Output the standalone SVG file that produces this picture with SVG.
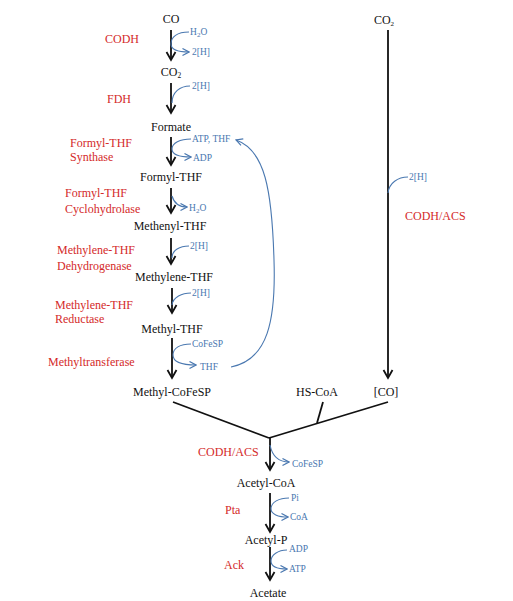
<svg xmlns="http://www.w3.org/2000/svg" width="513" height="601" viewBox="0 0 513 601">
<defs>
<marker id="ah" markerUnits="userSpaceOnUse" markerWidth="12" markerHeight="12" viewBox="0 0 12 12" refX="10" refY="6" orient="auto">
<path d="M2,1.5 L10,6 L2,10.5" fill="none" stroke="#111" stroke-width="1.8"/>
</marker>
<marker id="bh" markerUnits="userSpaceOnUse" markerWidth="9" markerHeight="9" viewBox="0 0 9 9" refX="8" refY="4.5" orient="auto">
<path d="M1.5,1 L8,4.5 L1.5,8" fill="none" stroke="#4a78b0" stroke-width="1.2"/>
</marker>
</defs>
<style>
.k{font-family:"Liberation Serif","Times New Roman",serif;font-size:12px;fill:#111;text-anchor:middle}
.r{font-family:"Liberation Serif","Times New Roman",serif;font-size:12px;fill:#d42a2a}
.b{font-family:"Liberation Serif","Times New Roman",serif;font-size:9.5px;fill:#4a78b0}
.m{stroke:#111;stroke-width:1.8;fill:none;marker-end:url(#ah)}
.s{stroke:#4a78b0;stroke-width:1.1;fill:none}
.sa{stroke:#4a78b0;stroke-width:1.1;fill:none;marker-end:url(#bh)}
.l{stroke:#111;stroke-width:1.8;fill:none}
</style>
<rect width="513" height="601" fill="#fff"/>
<g id="connectors">
<line class="m" x1="171" y1="30" x2="171" y2="60"/>
<line class="m" x1="171" y1="83" x2="171" y2="113"/>
<line class="m" x1="171" y1="137" x2="171" y2="165"/>
<line class="m" x1="171" y1="188" x2="171" y2="213"/>
<line class="m" x1="171" y1="238" x2="171" y2="264"/>
<line class="m" x1="172" y1="288" x2="172" y2="313"/>
<line class="m" x1="172" y1="338" x2="172" y2="378"/>
<line class="m" x1="388" y1="30" x2="388" y2="378"/>
<line class="l" x1="173" y1="402" x2="269" y2="438"/>
<line class="l" x1="388" y1="402" x2="269" y2="438"/>
<line class="l" x1="323" y1="402" x2="317" y2="423"/>
<line class="m" x1="270" y1="437" x2="270" y2="470"/>
<line class="m" x1="270" y1="493" x2="270" y2="532"/>
<line class="m" x1="270" y1="547" x2="270" y2="580"/>
<path class="sa" d="M189,32 C177,32 171,37 171,44 C171,50 178,52 189,52"/>
<path class="s" d="M190,86 C180,86 172,92 172,103"/>
<path class="sa" d="M191,139 C180,139 172,143 172,149 C172,155 180,157 191,157"/>
<path class="sa" d="M172,196 C174,203 178,207 187,207"/>
<path class="s" d="M189,246 C180,246 172,250 172,258"/>
<path class="s" d="M191,293 C182,293 173,297 172,305"/>
<path class="sa" d="M191,344 C180,344 173,348 173,355 C173,362 182,365 196,365"/>
<path class="s" d="M408,177 C398,177 389,183 388,193"/>
<path class="sa" d="M270,445 C272,455 278,462 289,462"/>
<path class="sa" d="M289,498 C279,498 271,502 271,509 C271,514 278,517 288,517"/>
<path class="sa" d="M287,550 C278,550 271,555 271,561 C271,567 278,569 287,569"/>
<path class="sa" d="M231,367 C268,360 276,320 274,260 C272,190 265,150 236,140"/>
</g>
<g id="n-co"><text class="k" x="171" y="23">CO</text></g>
<g id="n-co2"><text class="k" x="171" y="76">CO<tspan font-size="7.5" dy="2">2</tspan></text></g>
<g id="n-formate"><text class="k" x="171" y="131">Formate</text></g>
<g id="n-formylthf"><text class="k" x="171" y="181">Formyl-THF</text></g>
<g id="n-methenylthf"><text class="k" x="170" y="230">Methenyl-THF</text></g>
<g id="n-methylenethf"><text class="k" x="174" y="281">Methylene-THF</text></g>
<g id="n-methylthf"><text class="k" x="172" y="333">Methyl-THF</text></g>
<g id="n-methylcofesp"><text class="k" x="172" y="396">Methyl-CoFeSP</text></g>
<g id="n-hscoa"><text class="k" x="317" y="396">HS-CoA</text></g>
<g id="n-co-bracket"><text class="k" x="386" y="396">[CO]</text></g>
<g id="n-co2-right"><text class="k" x="384" y="24" font-size="10.5">CO<tspan font-size="7" dy="2">2</tspan></text></g>
<g id="n-acetylcoa"><text class="k" x="266" y="487">Acetyl-CoA</text></g>
<g id="n-acetylp"><text class="k" x="266" y="544">Acetyl-P</text></g>
<g id="n-acetate"><text class="k" x="268" y="597">Acetate</text></g>
<g id="enzymes">
<text class="r" x="105" y="43">CODH</text>
<text class="r" x="107" y="103">FDH</text>
<text class="r" x="70" y="147">Formyl-THF</text>
<text class="r" x="70" y="161">Synthase</text>
<text class="r" x="65" y="197">Formyl-THF</text>
<text class="r" x="65" y="213">Cyclohydrolase</text>
<text class="r" x="57" y="254">Methylene-THF</text>
<text class="r" x="57" y="270">Dehydrogenase</text>
<text class="r" x="55" y="309">Methylene-THF</text>
<text class="r" x="55" y="323">Reductase</text>
<text class="r" x="48" y="366">Methyltransferase</text>
<text class="r" x="405" y="220">CODH/ACS</text>
<text class="r" x="198" y="456">CODH/ACS</text>
<text class="r" x="225" y="514">Pta</text>
<text class="r" x="224" y="569">Ack</text>
</g>
<g id="cofactors">
<text class="b" x="190" y="35">H<tspan font-size="7" dy="1.5">2</tspan><tspan dy="-1.5">O</tspan></text>
<text class="b" x="192" y="55">2[H]</text>
<text class="b" x="192" y="89">2[H]</text>
<text class="b" x="192" y="142">ATP, THF</text>
<text class="b" x="193" y="161">ADP</text>
<text class="b" x="189" y="211">H<tspan font-size="7" dy="1.5">2</tspan><tspan dy="-1.5">O</tspan></text>
<text class="b" x="190" y="249">2[H]</text>
<text class="b" x="192" y="296">2[H]</text>
<text class="b" x="192" y="347">CoFeSP</text>
<text class="b" x="200" y="370">THF</text>
<text class="b" x="409" y="180">2[H]</text>
<text class="b" x="292" y="467">CoFeSP</text>
<text class="b" x="291" y="501">Pi</text>
<text class="b" x="290" y="520">CoA</text>
<text class="b" x="289" y="552">ADP</text>
<text class="b" x="289" y="572">ATP</text>
</g>
</svg>
